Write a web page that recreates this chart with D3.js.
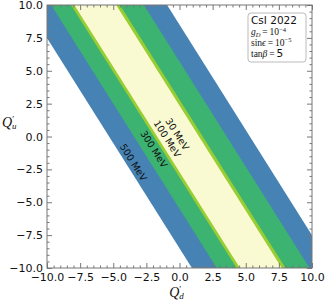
<!DOCTYPE html>
<html>
<head>
<meta charset="utf-8">
<script src="https://cdn.jsdelivr.net/npm/d3@7"></script>
<style>
  html, body { margin: 0; padding: 0; background: #fff; }
  svg { display: block; }
</style>
</head>
<body>
<div id="chart"></div>
<script>
// allowed bands in the (Q'_d, Q'_u) plane, one per mediator mass
// a band is  low <= Q'_u + slope * Q'_d <= high
const masses = ["500 MeV", "300 MeV", "100 MeV", "30 MeV"];
const bandLow = [-8.5, -5.5, -3.1, -2.7];
const bandHigh = [8.5, 5.7, 2.8, 2.35];
const bandSlope = 1.6;
const bandColors = ["steelblue", "mediumseagreen", "yellowgreen", "lightgoldenrodyellow"];
const tickValues = [-10, -7.5, -5, -2.5, 0, 2.5, 5, 7.5, 10];

// contour label anchors, in data units
const labelQd = [-3.46, -1.92, -0.91, -0.15];
const labelQu = [-1.96, -0.95, -0.17, 0.19];

const width = 326, height = 301;
const margin = {top: 5, right: 14, bottom: 33, left: 47};
const serif = "Liberation Serif";
const sans = "DejaVu Sans";

const svg = d3.select("#chart").append("svg")
    .attr("width", width)
    .attr("height", height);

const x = d3.scaleLinear().domain([-10, 10]).range([margin.left, width - margin.right]);
const y = d3.scaleLinear().domain([-10, 10]).range([height - margin.bottom, margin.top]);

svg.append("clipPath").attr("id", "plot-clip")
  .append("rect")
    .attr("x", x(-10)).attr("y", y(10))
    .attr("width", x(10) - x(-10)).attr("height", y(-10) - y(10));

// bands, widest first
const bandPath = (lo, hi) => {
    const pts = [[-25, lo], [25, lo], [25, hi], [-25, hi]]
        .map(([qd, c]) => [x(qd), y(c - bandSlope * qd)]);
    return d3.line()(pts) + "Z";
};

svg.append("g").attr("clip-path", "url(#plot-clip)")
  .selectAll("path")
  .data(masses)
  .enter()
  .append("path")
    .attr("d", (d, i) => bandPath(bandLow[i], bandHigh[i]))
    .attr("fill", (d, i) => bandColors[i]);

// contour labels follow the band direction
const angle = Math.atan2(y(-bandSlope) - y(0), x(1) - x(0)) * 180 / Math.PI;
svg.append("g")
  .selectAll("text")
  .data(masses)
  .enter()
  .append("text")
    .attr("transform", (d, i) => `translate(${x(labelQd[i])},${y(labelQu[i])}) rotate(${angle})`)
    .attr("text-anchor", "middle")
    .attr("dominant-baseline", "central")
    .attr("font-family", sans)
    .attr("font-size", 9.5)
    .attr("fill", "#111")
    .text(d => d);

// axes: major + minor ticks on all four sides, pointing inward
const minorValues = d3.range(-10, 10.001, 0.5)
    .filter(v => Math.abs(v / 2.5 - Math.round(v / 2.5)) > 1e-6);
const fmt = d3.format(".1f");

function addAxis(axisFn, scale, transform, labels) {
    const g = svg.append("g").attr("transform", transform);
    g.call(axisFn(scale).tickValues(minorValues).tickSizeInner(-2.5).tickSizeOuter(0).tickFormat(""));
    const major = svg.append("g").attr("transform", transform);
    major.call(axisFn(scale).tickValues(tickValues).tickSizeInner(-5).tickSizeOuter(0)
        .tickPadding(labels ? (axisFn === d3.axisBottom ? 5 : 4) : 0)
        .tickFormat(labels ? fmt : ""));
    [g, major].forEach(s => {
        s.select(".domain").remove();
        s.selectAll("line").attr("stroke", "#777");
        s.attr("font-family", sans).attr("font-size", 11);
        s.selectAll("text").attr("fill", "#111");
    });
}

addAxis(d3.axisBottom, x, `translate(0,${y(-10)})`, true);
addAxis(d3.axisTop, x, `translate(0,${y(10)})`, false);
addAxis(d3.axisLeft, y, `translate(${x(-10)},0)`, true);
addAxis(d3.axisRight, y, `translate(${x(10)},0)`, false);

svg.append("rect")
    .attr("x", x(-10)).attr("y", y(10))
    .attr("width", x(10) - x(-10)).attr("height", y(-10) - y(10))
    .attr("fill", "none")
    .attr("stroke", "#777")
    .attr("stroke-width", 1);

// axis titles
const xt = svg.append("text")
    .attr("x", (x(-10) + x(10)) / 2 - 3)
    .attr("y", 297)
    .attr("text-anchor", "middle")
    .attr("font-family", serif)
    .attr("font-style", "italic")
    .attr("font-size", 14)
    .attr("fill", "#111");
xt.append("tspan").text("Q");
xt.append("tspan").attr("dy", -5).attr("font-size", 9).attr("font-style", "normal").text("′");
xt.append("tspan").attr("dx", -2).attr("dy", 7).attr("font-size", 9).text("d");

const yt = svg.append("text")
    .attr("x", 2)
    .attr("y", 127)
    .attr("font-family", serif)
    .attr("font-style", "italic")
    .attr("font-size", 14)
    .attr("fill", "#111");
yt.append("tspan").text("Q");
yt.append("tspan").attr("dy", -5).attr("font-size", 9).attr("font-style", "normal").text("′");
yt.append("tspan").attr("dx", -2).attr("dy", 7).attr("font-size", 9).text("u");

// info box
const box = svg.append("g");
box.append("rect")
    .attr("x", 248).attr("y", 13)
    .attr("width", 58).attr("height", 49)
    .attr("rx", 3)
    .attr("fill", "#fff")
    .attr("stroke", "#bbb");

box.append("text")
    .attr("x", 251).attr("y", 24)
    .attr("font-family", sans).attr("font-size", 10.5)
    .attr("fill", "#111")
    .text("CsI 2022");

const l2 = box.append("text").attr("x", 251).attr("y", 35)
    .attr("font-family", serif).attr("font-size", 9.5).attr("fill", "#111");
l2.append("tspan").attr("font-style", "italic").text("g");
l2.append("tspan").attr("font-style", "italic").attr("font-size", 6.5).attr("dy", 2).text("D");
l2.append("tspan").attr("dy", -2).text("\u2009=\u200910");
l2.append("tspan").attr("font-size", 6.5).attr("dy", -3.5).text("−4");

const l3 = box.append("text").attr("x", 251).attr("y", 45.5)
    .attr("font-family", serif).attr("font-size", 9.5).attr("fill", "#111");
l3.append("tspan").text("sin");
l3.append("tspan").attr("font-style", "italic").text("ϵ");
l3.append("tspan").text("\u2009=\u200910");
l3.append("tspan").attr("font-size", 6.5).attr("dy", -3.5).text("−5");

const l4 = box.append("text").attr("x", 251).attr("y", 56.5)
    .attr("font-family", serif).attr("font-size", 9.5).attr("fill", "#111");
l4.append("tspan").text("tan");
l4.append("tspan").attr("font-style", "italic").text("β");
l4.append("tspan").text("\u2009=\u2009");
l4.append("tspan").attr("font-family", sans).attr("font-size", 10.5).text("5");
</script>
</body>
</html>
